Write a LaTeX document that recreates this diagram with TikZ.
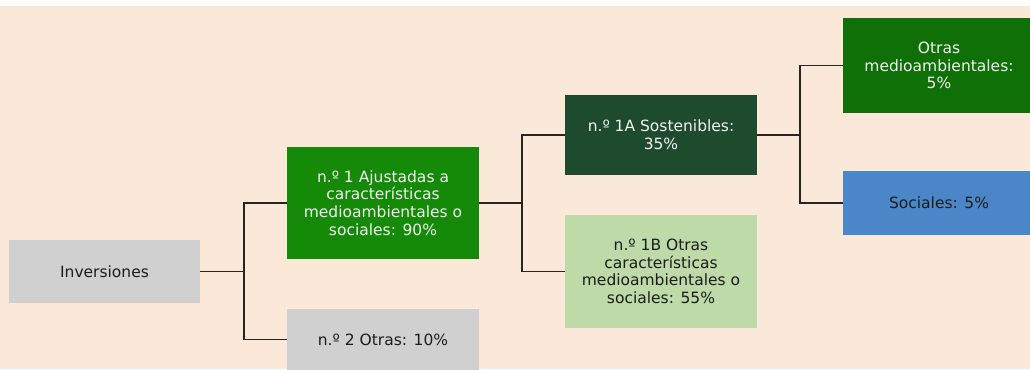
\documentclass[tikz,border=0pt]{standalone}
\usepackage{fontspec}
\setmainfont{DejaVu Sans}
\definecolor{bgpeach}{RGB}{250,232,216}
\definecolor{boxgray}{RGB}{208,208,208}
\definecolor{greenA}{RGB}{20,138,8}
\definecolor{greenDark}{RGB}{30,74,46}
\definecolor{greenLight}{RGB}{189,218,168}
\definecolor{greenMid}{RGB}{16,112,8}
\definecolor{blueSoc}{RGB}{74,134,200}
\definecolor{txtLight}{RGB}{242,242,242}
\definecolor{txtDark}{RGB}{28,28,28}
\definecolor{lineCol}{RGB}{40,36,34}
\tikzset{
  box/.style={draw=none, inner sep=0pt, align=center, minimum width=192bp,
    font=\fontsize{15.5bp}{17.7bp}\selectfont},
  lightbox/.style={box, text=txtDark},
  darkbox/.style={box, text=txtLight},
  conn/.style={draw=lineCol, line width=1.3bp}
}
\begin{document}
\begin{tikzpicture}[x=1bp,y=-1bp]
\clip (0,0) rectangle (1030,369);
\fill[white] (0,0) rectangle (1030,369);
\fill[bgpeach] (0,6) rectangle (1030,369);

\node[lightbox, fill=boxgray, minimum width=191bp, minimum height=63bp] (inv) at (104.5,271.5) {Inversiones};
\node[darkbox, fill=greenA, minimum height=112bp] (n1) at (383,203) {n.º 1 Ajustadas a\\características\\medioambientales o\\sociales: 90\%};
\node[lightbox, fill=boxgray, minimum height=61bp] (n2) at (383,339.5) {n.º 2 Otras: 10\%};
\node[darkbox, fill=greenDark, minimum height=80bp] (a1) at (661,135) {n.º 1A Sostenibles:\\35\%};
\node[lightbox, fill=greenLight, minimum height=113bp] (b1) at (661,271.5) {n.º 1B Otras\\características\\medioambientales o\\sociales: 55\%};
\node[darkbox, fill=greenMid, minimum height=95bp] (om) at (939,65.5) {Otras\\medioambientales:\\5\%};
\node[lightbox, fill=blueSoc, minimum height=64bp] (soc) at (939,203) {Sociales: 5\%};

\coordinate (j1) at (244,271.5);
\coordinate (j2) at (522,203);
\coordinate (j3) at (800,135);

\draw[conn] (inv.east) -- (j1);
\draw[conn] (j1) |- (n1.west);
\draw[conn] (j1) |- (n2.west);
\draw[conn] (n1.east) -- (j2);
\draw[conn] (j2) |- (a1.west);
\draw[conn] (j2) |- (b1.west);
\draw[conn] (a1.east) -- (j3);
\draw[conn] (j3) |- (om.west);
\draw[conn] (j3) |- (soc.west);
\end{tikzpicture}
\end{document}
